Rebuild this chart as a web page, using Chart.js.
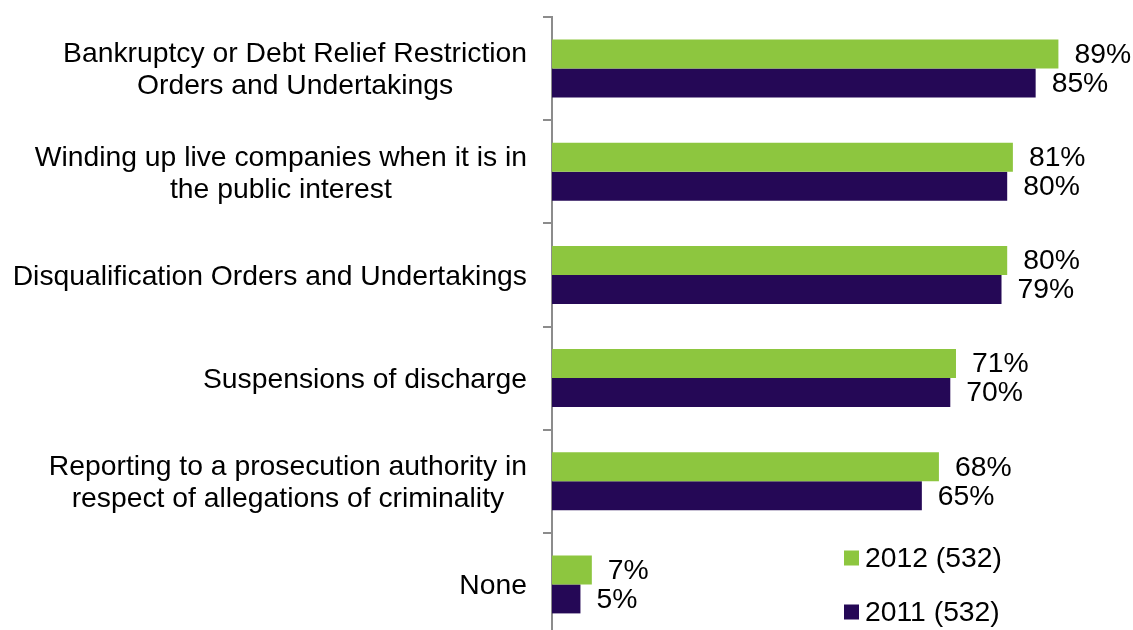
<!DOCTYPE html>
<html>
<head>
<meta charset="utf-8">
<script src="https://cdn.jsdelivr.net/npm/chart.js@4/dist/chart.umd.min.js"></script>
<style>
  html, body { margin: 0; padding: 0; background: #fff; overflow: hidden; }
  #wrap { position: relative; width: 1133px; height: 640px; }
</style>
</head>
<body>
<div id="wrap"><canvas id="c" width="1133" height="640"></canvas></div>
<script>
// Categories (multi-line labels), top to bottom
const categories = [
  ['Bankruptcy or Debt Relief Restriction', 'Orders and Undertakings'],
  ['Winding up live companies when it is in', 'the public interest'],
  ['Disqualification Orders and Undertakings'],
  ['Suspensions of discharge'],
  ['Reporting to a prosecution authority in', 'respect of allegations of criminality'],
  ['None']
];
// Percentages per year
const values2012 = [89, 81, 80, 71, 68, 7];
const values2011 = [85, 80, 79, 70, 65, 5];
const seriesLabels = ['2012 (532)', '2011 (532)'];

const GREEN = '#8dc63f';
const PURPLE = '#250856';
const AXIS = '#8c8c8c';
const FONT = '28.3px "Liberation Sans", Arial, sans-serif';

// Category names, right-aligned as a block, each line centred within it
const categoryLabels = {
  id: 'categoryLabels',
  afterDraw(chart) {
    const ctx = chart.ctx;
    const y = chart.scales.y;
    const right = 527;
    const lh = 32;
    ctx.save();
    ctx.font = FONT;
    ctx.fillStyle = '#000';
    ctx.textBaseline = 'middle';
    ctx.textAlign = 'center';
    categories.forEach((lines, i) => {
      const cy = y.getPixelForValue(i) + 2;
      const w = Math.max(...lines.map(l => ctx.measureText(l).width));
      const cx = right - w / 2;
      lines.forEach((line, j) => {
        ctx.fillText(line, cx, cy + (j - (lines.length - 1) / 2) * lh);
      });
    });
    ctx.restore();
  }
};

// Percentage labels at the end of each bar
const valueLabels = {
  id: 'valueLabels',
  afterDatasetsDraw(chart) {
    const ctx = chart.ctx;
    ctx.save();
    ctx.font = FONT;
    ctx.fillStyle = '#000';
    ctx.textBaseline = 'middle';
    ctx.textAlign = 'left';
    chart.data.datasets.forEach((ds, di) => {
      chart.getDatasetMeta(di).data.forEach((bar, i) => {
        ctx.fillText(ds.data[i] + '%', bar.x + 16, bar.y + 1);
      });
    });
    ctx.restore();
  }
};

// Legend placed in the lower right of the plot
const cornerLegend = {
  id: 'cornerLegend',
  afterDraw(chart) {
    const ctx = chart.ctx;
    const x = 844, rows = [558, 612], sq = 15;
    ctx.save();
    ctx.font = FONT;
    ctx.textBaseline = 'middle';
    ctx.textAlign = 'left';
    chart.data.datasets.forEach((ds, i) => {
      ctx.fillStyle = ds.backgroundColor;
      ctx.fillRect(x, rows[i] - sq / 2, sq, sq);
      ctx.fillStyle = '#000';
      ctx.fillText(ds.label, x + 21, rows[i] + 1);
    });
    ctx.restore();
  }
};

new Chart(document.getElementById('c'), {
  type: 'bar',
  data: {
    labels: categories.map(c => c.join(' ')),
    datasets: [
      { label: seriesLabels[0], data: values2012, backgroundColor: GREEN,
        categoryPercentage: 0.562, barPercentage: 1.0 },
      { label: seriesLabels[1], data: values2011, backgroundColor: PURPLE,
        categoryPercentage: 0.562, barPercentage: 1.0 }
    ]
  },
  options: {
    indexAxis: 'y',
    responsive: false,
    animation: false,
    layout: { padding: { left: 543, right: 12, top: 17, bottom: 4 } },
    plugins: { legend: { display: false }, tooltip: { enabled: false } },
    scales: {
      x: { display: false, min: 0, max: 100 },
      y: {
        position: 'left',
        offset: true,
        grid: { offset: true, drawOnChartArea: false, drawTicks: true,
                tickLength: 9, color: AXIS, lineWidth: 2 },
        border: { display: true, color: AXIS, width: 2 },
        ticks: { display: false },
        afterFit(s) { s.width = 9; }
      }
    }
  },
  plugins: [categoryLabels, valueLabels, cornerLegend]
});
</script>
</body>
</html>
